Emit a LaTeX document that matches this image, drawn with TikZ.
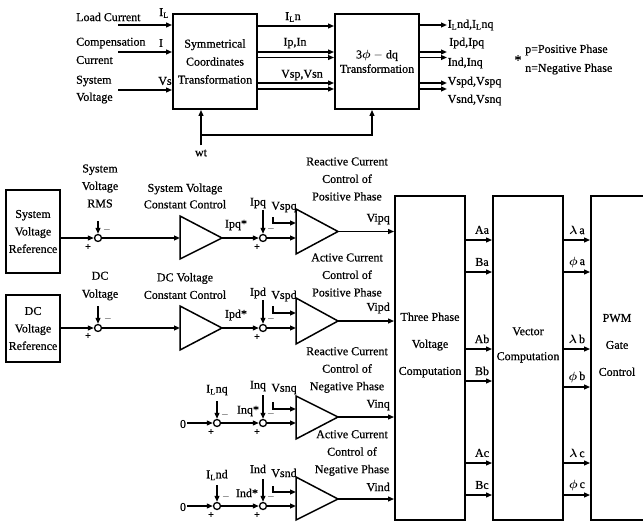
\documentclass[tikz,border=0pt]{standalone}
\usepackage{amsmath}
\usepackage{fontspec}
\setmainfont{Liberation Serif}[FakeBold=0.6]
\usetikzlibrary{arrows.meta,calc}
\begin{document}
\begin{tikzpicture}[x=1pt,y=-1pt,
  every node/.style={font=\fontsize{12}{14.4}\selectfont, inner sep=0pt},
  ln/.style={line width=1.5pt},
  arr/.style={ln,-{Triangle[length=6pt,width=4.8pt]}},
  blk/.style={draw,line width=1.8pt},
  sj/.style={circle,draw,line width=1.3pt,minimum size=7pt,inner sep=0pt},
  sgn/.style={font=\fontsize{10}{10}\selectfont\bfseries},
  ampl/.style={draw,line width=1.5pt,line join=miter}
]
\useasboundingbox (0,0) rectangle (643,522);

% ---------------- top part ----------------
\node[anchor=west] (tLoad) at (76,17) {Load Current};
\node[anchor=west] (tComp) at (76,43) {Compensation};
\node[anchor=west] (tCur) at (76,60) {Current};
\node[anchor=west] (tSys) at (76,81) {System};
\node[anchor=west] (tVol) at (76,98) {Voltage};

\node[blk,minimum width=84pt,minimum height=95pt,align=center,font=\fontsize{12}{18}\selectfont] (sym) at (215,61.5) {Symmetrical\\Coordinates\\Transformation};
\node[blk,minimum width=84pt,minimum height=95pt,align=center] (dq) at (377,61.5) {3$\boldsymbol{\phi}$ $-$ dq\\Transformation};

\path (118,25) coordinate (in1) (118,52) coordinate (in2) (118,90) coordinate (in3);
\draw[arr] (in1) -- (in1 -| sym.west);
\draw[arr] (in2) -- (in2 -| sym.west);
\draw[arr] (in3) -- (in3 -| sym.west);
\node (lIL) at (164,13) {I\textsubscript{L}};
\node (lI) at (161,43) {I};
\node (lVs) at (165,81) {Vs};

\path (0,26) coordinate (y1) (0,52) coordinate (y2) (0,57.5) coordinate (y3)
      (0,83) coordinate (y4) (0,89) coordinate (y5);
\foreach \yy in {y1,y2,y3,y4,y5}{
  \draw[arr] (sym.east |- \yy) -- (dq.west |- \yy);
}
\node (lILn) at (293,17) {I\textsubscript{L}n};
\node (lIpIn) at (295,43) {Ip,In};
\node (lVsp) at (302,75) {Vsp,Vsn};

\coordinate (oend) at (447,0);
\path (0,25) coordinate (o1) (0,52) coordinate (o2) (0,57.5) coordinate (o3)
      (0,83) coordinate (o4) (0,89) coordinate (o5);
\foreach \yy in {o1,o2,o3,o4,o5}{
  \draw[arr] (dq.east |- \yy) -- (oend |- \yy);
}
\node[anchor=west] (lo1) at (447.5,25) {I\textsubscript{L}nd,I\textsubscript{L}nq};
\node[anchor=west] (lo2) at (449,43) {Ipd,Ipq};
\node[anchor=west] (lo3) at (447.5,63) {Ind,Inq};
\node[anchor=west] (lo4) at (447.5,82) {Vspd,Vspq};
\node[anchor=west] (lo5) at (447.5,100) {Vsnd,Vsnq};

\node (star) at (518,60) {\fontsize{14}{14}\selectfont *};
\node[anchor=west] (lp) at (525,50) {p=Positive Phase};
\node[anchor=west] (lnn) at (525,69) {n=Negative Phase};

\node (wt) at (201,153) {wt};
\coordinate (wtj) at (201,135);
\coordinate (wtr) at (372,135);
\draw[arr] ([yshift=4pt]wt.north) -- (sym.south -| wt.north);
\draw[arr] (wtj) -- (wtr) -- (wtr |- dq.south);

% ---------------- right blocks ----------------
\node[blk,minimum width=70pt,minimum height=324pt] (tpvc) at (430,358) {};
\node[align=center,font=\fontsize{12}{27}\selectfont] (ttpvc) at (430,345) {Three Phase\\Voltage\\Computation};
\node[blk,minimum width=70pt,minimum height=324pt] (vc) at (528,358) {};
\node[align=center,font=\fontsize{12}{25}\selectfont] (tvc) at (528,345) {Vector\\Computation};
\node[blk,minimum width=60pt,minimum height=324pt] (pwm) at (621,358) {};
\node[align=center,font=\fontsize{12}{27}\selectfont] (tpwm) at (617,345) {PWM\\Gate\\Control};

\foreach \yy/\lab in {240/Aa,272/Ba,349/Ab,381/Bb,463/Ac,495/Bc}{
  \coordinate (h) at (0,\yy);
  \draw[arr] (tpvc.east |- h) -- (vc.west |- h);
  \node at (482,\yy-10) {\lab};
}
\foreach \yy/\lab in {240/$\boldsymbol{\lambda}$\,a,272/$\boldsymbol{\phi}$\,a,349/$\boldsymbol{\lambda}$\,b,387/$\boldsymbol{\phi}$\,b,463/$\boldsymbol{\lambda}$\,c,495/$\boldsymbol{\phi}$\,c}{
  \coordinate (h) at (0,\yy);
  \draw[arr] (vc.east |- h) -- (pwm.west |- h);
  \node at (577,\yy-10) {\lab};
}

% ---------------- row 1 ----------------
\node[blk,minimum width=54pt,minimum height=83pt,align=center,font=\fontsize{12}{17.5}\selectfont] (svr) at (33,231.5) {System\\Voltage\\Reference};
\node[align=center,font=\fontsize{12}{17.5}\selectfont] (lsvrms) at (100,186) {System\\Voltage\\RMS};
\node[sj] (s11) at (98,238) {};
\draw[arr] (svr.east |- s11) -- (s11.west);
\coordinate (v11) at (98,221);
\draw[arr] (v11) -- (s11.north);
\node[sgn] (m11) at (107,230) {$-$};
\node[sgn] (p11) at (88,247) {+};
\draw[ampl] (180,216) -- (222,238) -- (180,259) -- cycle;
\coordinate (a11i) at (180,238); \coordinate (a11o) at (222,238);
\draw[arr] (s11.east) -- (a11i);
\node[align=center,font=\fontsize{12}{16.5}\selectfont] (lsvcc) at (185,196) {System Voltage\\Constant Control};
\node (lipqs) at (236,225) {Ipq*};
\node[sj] (s12) at (263,238) {};
\draw[arr] (a11o) -- (s12.west);
\node (lipq) at (258,203) {Ipq};
\coordinate (v12) at (263,210);
\draw[arr] (v12) -- (s12.north);
\node (lvspq) at (284,207) {Vspq};
\node[sgn] (m12) at (271,229) {$-$};
\node[sgn] (p12) at (257,247) {+};
\coordinate (a12i1) at (296,223); \coordinate (a12i2) at (296,238);
\coordinate (b12) at (273,217);
\draw[arr] (b12) |- (a12i1);
\draw[arr] (s12.east) -- (a12i2);
\draw[ampl] (296,209) -- (338,231.5) -- (296,254) -- cycle;
\coordinate (a12o) at (338,231.5);
\draw[arr] (a12o) -- (a12o -| tpvc.west);
\node[anchor=east] (lvipq) at (390,219) {Vipq};
\node[align=center,font=\fontsize{12}{17.5}\selectfont] (lrcpp) at (347,179) {Reactive Current\\Control of\\Positive Phase};

% ---------------- row 2 ----------------
\node[blk,minimum width=54pt,minimum height=67pt,align=center,font=\fontsize{12}{17.5}\selectfont] (dcvr) at (33,328.5) {DC\\Voltage\\Reference};
\node[align=center,font=\fontsize{12}{18}\selectfont] (ldcv) at (100,286) {DC\\Voltage};
\node[sj] (s21) at (98,328) {};
\draw[arr] (dcvr.east |- s21) -- (s21.west);
\coordinate (v21) at (98,306);
\draw[arr] (v21) -- (s21.north);
\node[sgn] (m21) at (108,319) {$-$};
\node[sgn] (p21) at (88,336) {+};
\draw[ampl] (180,306) -- (222,328) -- (180,350) -- cycle;
\coordinate (a21i) at (180,328); \coordinate (a21o) at (222,328);
\draw[arr] (s21.east) -- (a21i);
\node[align=center,font=\fontsize{12}{17.5}\selectfont] (ldcvcc) at (185,286) {DC Voltage\\Constant Control};
\node (lipds) at (236,315) {Ipd*};
\node[sj] (s22) at (263,328) {};
\draw[arr] (a21o) -- (s22.west);
\node (lipd) at (258,293) {Ipd};
\coordinate (v22) at (263,300);
\draw[arr] (v22) -- (s22.north);
\node (lvspd) at (284,296) {Vspd};
\node[sgn] (m22) at (271,319) {$-$};
\node[sgn] (p22) at (257,337) {+};
\coordinate (a22i1) at (296,313); \coordinate (a22i2) at (296,328);
\coordinate (b22) at (273,306);
\draw[arr] (b22) |- (a22i1);
\draw[arr] (s22.east) -- (a22i2);
\draw[ampl] (296,298) -- (338,321) -- (296,344) -- cycle;
\coordinate (a22o) at (338,321);
\draw[arr] (a22o) -- (a22o -| tpvc.west);
\node[anchor=east] (lvipd) at (390,308) {Vipd};
\node[align=center,font=\fontsize{12}{17.5}\selectfont] (lacpp) at (347,275) {Active Current\\Control of\\Positive Phase};

% ---------------- row 3 ----------------
\node (z3) at (183,424) {0};
\node[sj] (s31) at (217,423) {};
\draw[arr] ([xshift=1pt]z3.east |- s31) -- (s31.west);
\node (lilnq) at (217,390) {I\textsubscript{L}nq};
\coordinate (v31) at (217,401);
\draw[arr] (v31) -- (s31.north);
\node[sgn] (m31) at (225,415) {$-$};
\node[sgn] (p31) at (211,432) {+};
\node (linqs) at (248,411) {Inq*};
\node[sj] (s32) at (263,423) {};
\draw[arr] (s31.east) -- (s32.west);
\node (linq) at (258,386) {Inq};
\coordinate (v32) at (263,395);
\draw[arr] (v32) -- (s32.north);
\node (lvsnq) at (284,389) {Vsnq};
\node[sgn] (m32) at (271,414) {$-$};
\node[sgn] (p32) at (257,432) {+};
\coordinate (a32i1) at (296,409); \coordinate (a32i2) at (296,423);
\coordinate (b32) at (273,402);
\draw[arr] (b32) |- (a32i1);
\draw[arr] (s32.east) -- (a32i2);
\draw[ampl] (296,396) -- (338,417) -- (296,439) -- cycle;
\coordinate (a32o) at (338,417);
\draw[arr] (a32o) -- (a32o -| tpvc.west);
\node[anchor=east] (lvinq) at (390,405) {Vinq};
\node[align=center,font=\fontsize{12}{17.5}\selectfont] (lrcnp) at (347,370) {Reactive Current\\Control of\\Negative Phase};

% ---------------- row 4 ----------------
\node (z4) at (183,507) {0};
\node[sj] (s41) at (217,506) {};
\draw[arr] ([xshift=1pt]z4.east |- s41) -- (s41.west);
\node (lilnd) at (217,475) {I\textsubscript{L}nd};
\coordinate (v41) at (217,485);
\draw[arr] (v41) -- (s41.north);
\node[sgn] (m41) at (226,497) {$-$};
\node[sgn] (p41) at (211,515) {+};
\node (linds) at (247,493) {Ind*};
\node[sj] (s42) at (263,506) {};
\draw[arr] (s41.east) -- (s42.west);
\node (lind) at (258,469) {Ind};
\coordinate (v42) at (263,479);
\draw[arr] (v42) -- (s42.north);
\node (lvsnd) at (284,473) {Vsnd};
\node[sgn] (m42) at (271,497) {$-$};
\node[sgn] (p42) at (257,515) {+};
\coordinate (a42i1) at (296,492); \coordinate (a42i2) at (296,506);
\coordinate (b42) at (273,486);
\draw[arr] (b42) |- (a42i1);
\draw[arr] (s42.east) -- (a42i2);
\draw[ampl] (296,477) -- (338,499) -- (296,520) -- cycle;
\coordinate (a42o) at (338,499);
\draw[arr] (a42o) -- (a42o -| tpvc.west);
\node[anchor=east] (lvind) at (390,487) {Vind};
\node[align=center,font=\fontsize{12}{17.5}\selectfont] (lacnp) at (352,453) {Active Current\\Control of\\Negative Phase};
\end{tikzpicture}
\end{document}
